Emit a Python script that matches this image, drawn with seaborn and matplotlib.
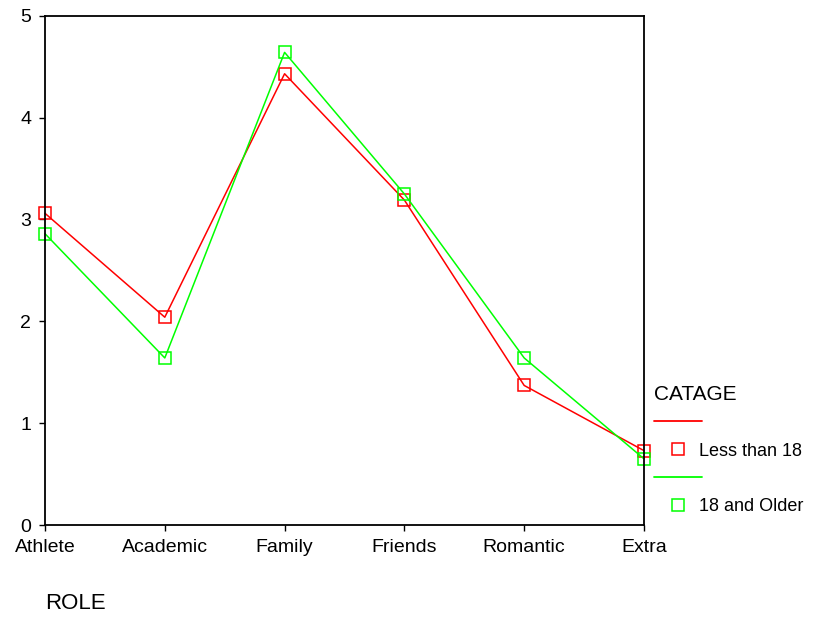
import pandas as pd
import seaborn as sns
import matplotlib.pyplot as plt
from matplotlib.lines import Line2D

# Data
roles = ['Athlete', 'Academic', 'Family', 'Friends', 'Romantic', 'Extra']
under_18 = [3.06, 2.04, 4.43, 3.19, 1.37, 0.73]
older_18 = [2.86, 1.64, 4.64, 3.25, 1.64, 0.65]
groups = ['Less than 18', '18 and Older']
colors = {'Less than 18': '#ff0000', '18 and Older': '#00ff00'}

df = pd.DataFrame({
    'ROLE': roles * 2,
    'score': under_18 + older_18,
    'CATAGE': [groups[0]] * len(roles) + [groups[1]] * len(roles),
})

sns.set_style('ticks')
plt.rcParams['font.family'] = ['Liberation Sans', 'DejaVu Sans']
plt.rcParams['text.color'] = 'black'
plt.rcParams['axes.labelcolor'] = 'black'
plt.rcParams['xtick.color'] = 'black'
plt.rcParams['ytick.color'] = 'black'

fig, ax = plt.subplots(figsize=(8.27, 6.23), dpi=100)
fig.subplots_adjust(left=0.0544, right=0.7787, top=0.9748, bottom=0.1573)

sns.lineplot(data=df, x='ROLE', y='score', hue='CATAGE', palette=colors,
             marker='s', markersize=8.3, linewidth=1.1, errorbar=None,
             sort=False, legend=False, ax=ax)
for line in ax.lines:
    line.set_markerfacecolor('none')
    line.set_markeredgecolor(line.get_color())
    line.set_markeredgewidth(1.1)
    line.set_clip_on(False)

ax.set_xlim(0, len(roles) - 1)
ax.set_ylim(0, 5)
ax.set_yticks(range(6))
ax.set_ylabel('')
ax.set_xlabel('ROLE', loc='left', fontsize=16, labelpad=27)
ax.tick_params(axis='both', labelsize=14, length=4, width=1)
ax.tick_params(axis='x', pad=6)
ax.tick_params(axis='y', pad=6)
for side in ['left', 'right', 'top', 'bottom']:
    ax.spines[side].set_visible(True)
    ax.spines[side].set_linewidth(1.3)
    ax.spines[side].set_color('black')

# SPSS-style legend: line on one row, marker with label on the next
handles, labels = [], []
for g in groups:
    handles.append(Line2D([], [], color=colors[g], linewidth=1.3))
    labels.append('')
    handles.append(Line2D([], [], color=colors[g], marker='s', linestyle='none',
                          markersize=8.3, markerfacecolor='none', markeredgewidth=1.1))
    labels.append(g)
leg = ax.legend(handles, labels, title='CATAGE', loc='upper left',
                bbox_to_anchor=(0.995, 0.3), frameon=False, fontsize=13,
                title_fontsize=15, handlelength=2.7, labelspacing=0.6,
                handletextpad=-0.2, borderaxespad=0.3, alignment='left')

fig.savefig('out.png', dpi=100)
